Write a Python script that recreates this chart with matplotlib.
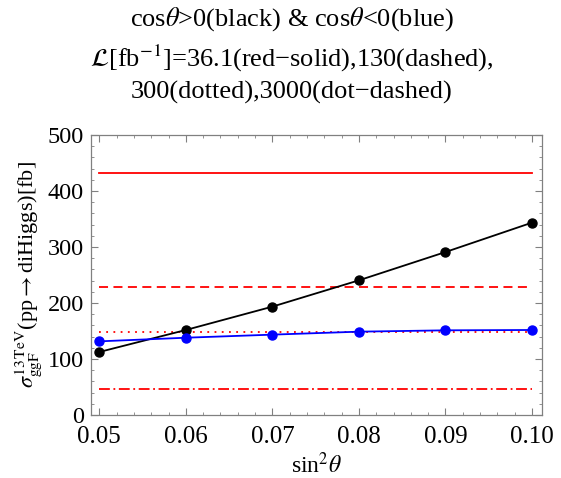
import numpy as np
import matplotlib.pyplot as plt
from matplotlib.ticker import MultipleLocator

plt.rcParams['font.family'] = 'Liberation Serif'
plt.rcParams['mathtext.fontset'] = 'stix'

# data
sin2 = [0.05, 0.06, 0.07, 0.08, 0.09, 0.10]
xs_pos = [112.5, 151.8, 193.5, 240.5, 291.0, 343.5]   # cos(theta) > 0, black
xs_neg = [131.5, 138.0, 143.5, 148.8, 151.2, 151.8]   # cos(theta) < 0, blue
lumi_limits = [433, 228, 149, 47]                    # 36.1, 130, 300, 3000 fb^-1
lumi_styles = ['-', (0, (5, 3)), (0, (1, 3)), (0, (6, 2, 1, 2))]

fig = plt.figure(figsize=(5.61, 4.78), dpi=100)
ax = fig.add_axes([0.1622, 0.1318, 0.8039, 0.5858])

for lim, ls in zip(lumi_limits, lumi_styles):
    ax.plot([sin2[0], sin2[-1]], [lim, lim], color='red', lw=1.3, linestyle=ls)

ax.plot(sin2, xs_pos, color='black', lw=1.3, marker='o', ms=6.5, zorder=3)
ax.plot(sin2, xs_neg, color='blue', lw=1.3, marker='o', ms=6.5, zorder=3)

ax.set_xlim(0.04904, 0.10115)
ax.set_ylim(0, 500)
ax.set_xticks(sin2)
ax.set_xticklabels(['0.05', '0.06', '0.07', '0.08', '0.09', '0.10'])
ax.xaxis.set_minor_locator(MultipleLocator(0.002))
ax.yaxis.set_major_locator(MultipleLocator(100))
ax.yaxis.set_minor_locator(MultipleLocator(20))

for s in ax.spines.values():
    s.set_color('#808080')
    s.set_linewidth(0.9)
ax.tick_params(which='both', direction='in', top=True, right=True, color='#808080')
ax.tick_params(axis='x', pad=8, labelsize=18)
ax.tick_params(axis='y', pad=5, labelsize=17.5)
ax.tick_params(which='major', length=5, width=0.8)
ax.tick_params(which='minor', length=2.5, width=0.6)

ax.set_xlabel(r'sin$^2\theta$', fontsize=17, labelpad=3)
ax.set_ylabel(r'$\sigma_{\rm ggF}^{\rm 13\,TeV}$(pp$\rightarrow$diHiggs)[fb]', fontsize=16, labelpad=3)

fig.text(292 / 561, 0.99,
         'cos$\\theta$>0(black) & cos$\\theta$<0(blue)\n'
         '$\\mathcal{L}$[fb$^{-1}$]=36.1(red\u2212solid),130(dashed),\n'
         '300(dotted),3000(dot\u2212dashed)',
         ha='center', va='top', fontsize=19, linespacing=1.42)

fig.savefig('out.png', dpi=100)
